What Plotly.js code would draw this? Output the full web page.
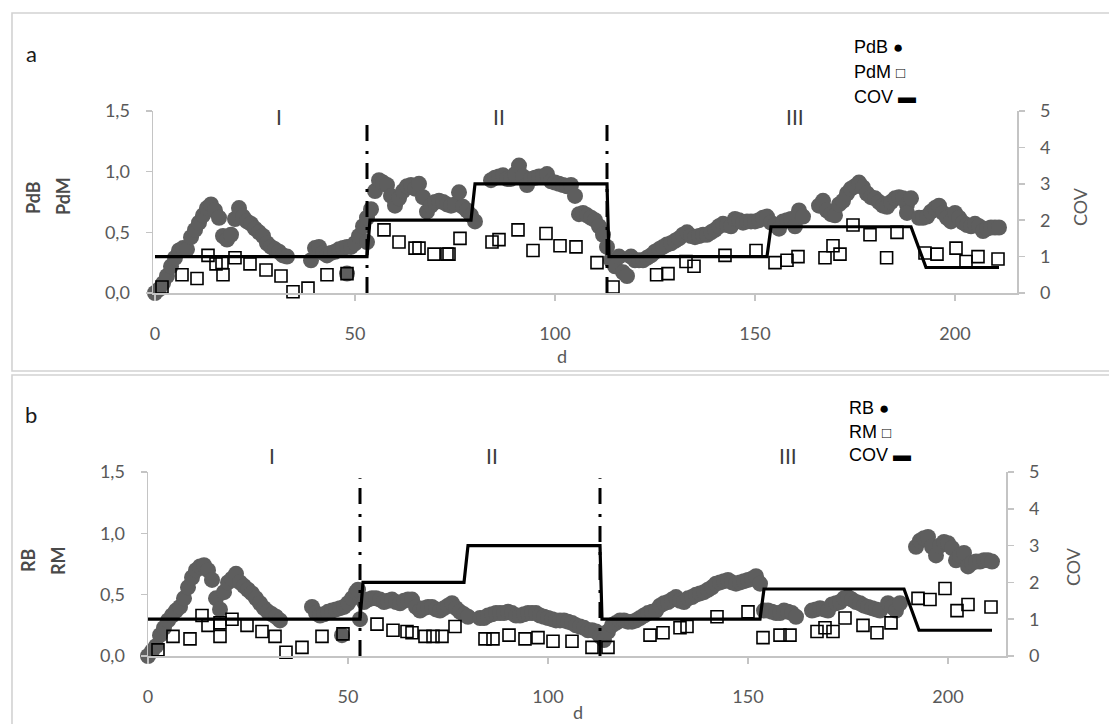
<!DOCTYPE html>
<html>
<head>
<meta charset="utf-8">
<script src="https://cdn.plot.ly/plotly-3.0.1.min.js"></script>
<style>
  html, body { margin: 0; padding: 0; background: #ffffff; }
  #chart { width: 1109px; height: 724px; }
</style>
</head>
<body>
<div id="chart"></div>
<script>
// ---------- data: [day, value] ----------
const pdbPoints = [
  [0,0.00],[1,0.03],[2,0.08],[3,0.14],[4,0.22],[5,0.29],[6,0.35],[7,0.37],[8,0.36],[9,0.46],
  [10,0.52],[11,0.58],[12,0.64],[13,0.70],[14,0.73],[15,0.68],[16,0.62],[17,0.47],[18,0.44],[19,0.48],
  [20,0.61],[21,0.70],[22,0.63],[23,0.59],[24,0.57],[25,0.53],[26,0.50],[27,0.47],[28,0.41],[29,0.38],
  [30,0.36],[31,0.34],[32,0.31],[33,0.30],
  [39,0.27],[40,0.37],[41,0.38],[42,0.33],[43,0.31],[44,0.33],[45,0.34],[46,0.36],[47,0.37],[48,0.38],
  [48,0.16],[49,0.38],[50,0.41],[51,0.47],[52,0.55],[53,0.42],[53,0.62],[54,0.69],[55,0.84],[56,0.93],
  [57,0.91],[58,0.89],[59,0.80],[60,0.72],[61,0.78],[62,0.84],[63,0.88],[64,0.89],[65,0.86],[66,0.90],
  [67,0.79],[68,0.67],[69,0.72],[70,0.75],[71,0.76],[72,0.75],[73,0.73],[74,0.72],[75,0.73],[76,0.83],
  [77,0.71],[78,0.68],[79,0.64],[80,0.59],
  [84,0.93],[85,0.95],[86,0.96],[87,0.97],[88,0.94],[89,0.94],[90,0.98],[91,1.05],[92,0.96],[93,0.89],
  [94,0.94],[95,0.95],[96,0.96],[97,0.96],[98,0.98],[99,0.92],[100,0.91],[101,0.90],[102,0.89],[103,0.88],
  [104,0.89],[105,0.80],[106,0.65],[107,0.66],[108,0.64],[109,0.62],[110,0.60],[111,0.55],[112,0.48],[113,0.38],
  [114,0.27],[115,0.22],[116,0.30],[117,0.17],[118,0.14],[119,0.30],[120,0.27],[121,0.27],[122,0.27],[123,0.29],
  [124,0.31],[125,0.34],[126,0.36],[127,0.38],[128,0.40],[129,0.41],[130,0.43],[131,0.45],[132,0.48],[133,0.50],
  [134,0.47],[135,0.46],[136,0.47],[137,0.48],[138,0.48],[139,0.50],[140,0.52],[141,0.55],[142,0.57],[143,0.56],
  [144,0.55],[145,0.61],[146,0.60],[147,0.58],[148,0.59],[149,0.59],[150,0.59],[151,0.60],[152,0.62],[153,0.63],
  [154,0.58],[155,0.56],[156,0.53],[157,0.59],[158,0.60],[159,0.61],[160,0.55],[161,0.68],[162,0.63],
  [166,0.72],[167,0.76],[168,0.68],[169,0.65],[170,0.64],[171,0.73],[172,0.76],[173,0.82],[174,0.86],[175,0.88],
  [176,0.91],[177,0.87],[178,0.82],[179,0.79],[180,0.78],[181,0.75],[182,0.72],[183,0.71],[184,0.75],[185,0.78],
  [186,0.79],[187,0.78],[188,0.73],[188,0.66],[189,0.78],
  [191,0.62],[192,0.62],[193,0.63],[194,0.67],[195,0.70],[196,0.72],[197,0.66],[198,0.62],[199,0.59],[200,0.66],
  [201,0.62],[202,0.58],[203,0.56],[204,0.55],[205,0.57],[206,0.55],[207,0.51],[208,0.53],[209,0.54],[210,0.54],
  [211,0.54]
];

const pdmPoints = [
  [1.75,0.05],[6.75,0.15],[10.5,0.12],[13.25,0.31],[15.25,0.24],[16.75,0.25],[17,0.15],[20,0.29],[23.75,0.24],
  [27.75,0.19],[31.5,0.14],[34.5,0.01],[38.25,0.04],[43,0.15],[48,0.16],
  [57.25,0.52],[61,0.42],[65,0.37],[66,0.37],[69.75,0.32],[73,0.32],[73.5,0.32],[76.25,0.45],
  [84.25,0.42],[86,0.44],[90.75,0.52],[94.5,0.35],[97.75,0.49],[101.25,0.39],[105.25,0.38],[110.5,0.25],
  [114.5,0.05],[125.4,0.15],[128.25,0.16],[132.75,0.26],[134.75,0.22],[142.5,0.31],[150.25,0.35],
  [155,0.25],[158,0.27],[160.75,0.30],[167.5,0.29],[169.5,0.39],[171.25,0.32],[174.5,0.56],[178.75,0.48],
  [182.9,0.29],[185.5,0.50],[192.5,0.33],[195.5,0.32],[200.25,0.37],[202.75,0.26],[205.75,0.30],[210.75,0.28]
];

const rbPoints = [
  [0,0.00],[1,0.04],[2,0.08],[3,0.17],[4,0.23],[5,0.29],[6,0.33],[7,0.37],[8,0.40],[9,0.47],
  [10,0.56],[11,0.64],[12,0.70],[13,0.73],[14,0.74],[15,0.70],[16,0.62],[17,0.47],[18,0.38],[19,0.52],
  [20,0.60],[21,0.63],[22,0.67],[23,0.60],[24,0.57],[25,0.54],[26,0.51],[27,0.47],[28,0.43],[29,0.39],
  [30,0.36],[31,0.34],[32,0.32],[33,0.29],
  [41,0.40],[42,0.35],[43,0.33],[44,0.34],[45,0.36],[46,0.37],[47,0.38],[48,0.39],[48.5,0.17],[49,0.40],
  [50,0.43],[51,0.47],[52,0.52],[52.5,0.54],[53,0.30],[54,0.44],[55,0.46],[56,0.47],[57,0.47],[58,0.46],
  [59,0.44],[60,0.45],[61,0.46],[62,0.44],[63,0.43],[64,0.45],[65,0.46],[66,0.46],[67,0.40],[68,0.37],
  [69,0.39],[70,0.40],[71,0.40],[72,0.38],[73,0.37],[74,0.39],[75,0.41],[76,0.43],[77,0.39],[78,0.36],
  [79,0.34],[80,0.32],
  [83,0.31],[84,0.31],[85,0.33],[86,0.34],[87,0.35],[88,0.35],[89,0.35],[90,0.36],[91,0.35],[92,0.33],
  [93,0.33],[94,0.34],[95,0.35],[96,0.35],[97,0.35],[98,0.33],[99,0.32],[100,0.31],[101,0.30],[102,0.29],
  [103,0.29],[104,0.29],[105,0.28],[106,0.27],[107,0.25],[108,0.24],[109,0.23],[110,0.21],[111,0.21],[112,0.20],
  [113,0.16],[114,0.13],[115,0.20],[116,0.25],[117,0.27],[118,0.29],[119,0.29],[120,0.28],[121,0.28],[122,0.29],
  [123,0.31],[124,0.33],[125,0.35],[126,0.36],[127,0.37],[128,0.41],[129,0.43],[130,0.44],[131,0.46],[132,0.48],
  [133,0.45],[134,0.44],[135,0.47],[136,0.48],[137,0.50],[138,0.51],[139,0.52],[140,0.54],[141,0.56],[142,0.59],
  [143,0.60],[144,0.61],[145,0.62],[146,0.60],[147,0.59],[148,0.60],[149,0.61],[150,0.62],[151,0.63],[152,0.65],
  [153,0.59],[154,0.37],[155,0.37],[156,0.36],[157,0.35],[158,0.35],[159,0.37],[160,0.36],[161,0.35],[162,0.32],
  [166,0.37],[167,0.38],[168,0.39],[169,0.38],[170,0.37],[171,0.42],[172,0.43],[173,0.44],[174,0.47],[175,0.48],
  [176,0.46],[177,0.44],[178,0.43],[179,0.41],[180,0.40],[181,0.39],[182,0.38],[183,0.37],[185,0.43],[186,0.40],
  [187,0.37],[188,0.43],
  [192,0.89],[193,0.94],[194,0.96],[195,0.97],[196,0.89],[197,0.82],[198,0.90],[199,0.93],[200,0.92],[201,0.88],
  [202,0.78],[203,0.82],[204,0.84],[205,0.73],[206,0.76],[207,0.77],[208,0.77],[209,0.78],[210,0.78],[211,0.77]
];

const rmPoints = [
  [2.5,0.05],[6.25,0.16],[10.5,0.14],[13.5,0.33],[15,0.25],[18,0.27],[18,0.16],[21,0.30],[24.75,0.25],
  [28.5,0.20],[31.75,0.16],[34.5,0.03],[38.5,0.07],[43.5,0.16],[48.75,0.18],
  [57.25,0.26],[61.25,0.21],[64.75,0.20],[66,0.19],[69.25,0.16],[71.25,0.16],[73.5,0.16],[76.75,0.24],
  [84.25,0.14],[86.25,0.14],[90.25,0.17],[94.25,0.14],[97.5,0.15],[101.25,0.12],[106,0.12],[111,0.07],
  [115,0.07],[125.5,0.17],[128.75,0.19],[133,0.23],[134.75,0.24],[142.25,0.32],[150,0.36],
  [153.75,0.15],[158,0.17],[160.5,0.17],[167.25,0.20],[169.25,0.23],[171.25,0.20],[174.25,0.31],[178.75,0.25],
  [182.25,0.19],[185.75,0.27],[192.5,0.47],[195.5,0.46],[199.25,0.55],[202.25,0.37],[205,0.42],[210.75,0.40]
];

// COV step profile (secondary axis)
const covDay = [0, 53, 53.75, 79, 80, 113, 113.5, 153, 154, 189, 192.75, 211];
const covVal = [1, 1, 2, 2, 3, 3, 1, 1, 1.82, 1.82, 0.7, 0.7];

// phase boundaries and phase labels
const phaseBounds = [53, 113];
const phaseTop = 1.45;
const phaseNames = ['I', 'II', 'III'];
const phaseLabelDay = [31, 86, 160];

// tick values
const dayTicks = [0, 50, 100, 150, 200];
const leftTicks = [0, 0.5, 1.0, 1.5];
const covTicks = [0, 1, 2, 3, 4, 5];

// ---------- drawing ----------
const W = 1109, H = 724;
const px = x => x / W;
const py = y => 1 - y / H;

const GRAY_DOT = '#5e5e5e';
const AXIS = '#c4c4c4';
const TXT = '#595959';
const FONT = 'Lato, "Open Sans", sans-serif';
const LEG_FONT = '"Liberation Sans", Arial, sans-serif';

function panelTraces(circles, squares, xa, ya, ya2) {
  const tr = [];
  tr.push({
    type: 'scatter', mode: 'markers', xaxis: xa, yaxis: ya, cliponaxis: false,
    x: circles.map(p => p[0]), y: circles.map(p => p[1]),
    marker: { symbol: 'circle', size: 16, color: GRAY_DOT, line: { width: 0 } },
    hoverinfo: 'skip', showlegend: false
  });
  tr.push({
    type: 'scatter', mode: 'markers', xaxis: xa, yaxis: ya, cliponaxis: false,
    x: squares.map(p => p[0]), y: squares.map(p => p[1]),
    marker: { symbol: 'square', size: 12, color: 'rgba(255,255,255,0)', line: { color: '#000000', width: 1.6 } },
    hoverinfo: 'skip', showlegend: false
  });
  phaseBounds.forEach(d => {
    tr.push({
      type: 'scatter', mode: 'lines', xaxis: xa, yaxis: ya, cliponaxis: false,
      x: [d, d], y: [0, phaseTop],
      line: { color: '#000000', width: 3, dash: '16px,9px,3px,10px' },
      hoverinfo: 'skip', showlegend: false
    });
  });
  tr.push({
    type: 'scatter', mode: 'lines', xaxis: xa, yaxis: ya2, cliponaxis: false,
    x: covDay, y: covVal,
    line: { color: '#000000', width: 3.2 },
    hoverinfo: 'skip', showlegend: false
  });
  return tr;
}

const data = [].concat(
  panelTraces(pdbPoints, pdmPoints, 'x', 'y', 'y2'),
  panelTraces(rbPoints, rmPoints, 'x2', 'y3', 'y4')
);

const tickFont = { family: FONT, size: 18, color: TXT };
const baseAxis = {
  showline: true, linecolor: AXIS, linewidth: 1.5,
  ticks: 'outside', ticklen: 6, tickcolor: AXIS, tickwidth: 1.5,
  tickfont: tickFont, showgrid: false, zeroline: false, fixedrange: true
};

function xAxis(domain, range, anchor) {
  return Object.assign({}, baseAxis, { domain, range, anchor, tickvals: dayTicks, ticklabelstandoff: 18 });
}
function yLeft(domain, anchor) {
  return Object.assign({}, baseAxis, { domain, range: [0, 1.5], anchor, tickvals: leftTicks, tickformat: '.1f', ticklabelstandoff: 12 });
}
function yRight(overlay, anchor) {
  return Object.assign({}, baseAxis, { overlaying: overlay, side: 'right', anchor, range: [0, 5], tickvals: covTicks, ticklabelstandoff: 12 });
}

const ann = [];
function label(text, x, y, opts) {
  ann.push(Object.assign({
    xref: 'paper', yref: 'paper', x: px(x), y: py(y), text: text, showarrow: false,
    xanchor: 'center', yanchor: 'middle',
    font: { family: FONT, size: 18, color: TXT }
  }, opts || {}));
}

// panel letters
label('a', 31, 53, { font: { family: FONT, size: 22, color: '#1a1a1a' } });
label('b', 31, 414, { font: { family: FONT, size: 22, color: '#1a1a1a' } });

// phase labels (data x, paper y)
function phaseLabels(xref, y) {
  phaseNames.forEach((n, i) => {
    ann.push({
      xref: xref, yref: 'paper', x: phaseLabelDay[i], y: py(y), text: n, showarrow: false,
      xanchor: 'center', yanchor: 'middle',
      font: { family: FONT, size: 21, color: '#3a3a3a' }
    });
  });
}
phaseLabels('x', 116);
phaseLabels('x2', 455);

// legends
const legFont = { family: LEG_FONT, size: 18, color: '#000000' };
function legend(lines, x, ys) {
  lines.forEach((t, i) => label(t, x, ys[i], { xanchor: 'left', font: legFont }));
}
legend([
  'PdB <span style="font-size:17px">●</span>',
  'PdM <span style="font-size:15px">□</span>',
  'COV ▬'
], 852, [47, 72, 97]);
legend([
  'RB <span style="font-size:17px">●</span>',
  'RM <span style="font-size:15px">□</span>',
  'COV ▬'
], 847, [408, 432, 455]);

// axis titles
const boldTitle = { family: FONT, size: 18, color: '#4a4a4a', weight: 'bold' };
label('<b>PdB</b>', 33, 198, { textangle: -90, font: boldTitle });
label('<b>PdM</b>', 63, 196, { textangle: -90, font: boldTitle });
label('COV', 1080, 207, { textangle: -90 });
label('d', 562, 356);
label('<b>RB</b>', 28, 560, { textangle: -90, font: boldTitle });
label('<b>RM</b>', 58, 561, { textangle: -90, font: boldTitle });
label('COV', 1073, 567, { textangle: -90 });
label('d', 578, 712);

const frame = { color: '#d2d2d2', width: 1.6 };
const layout = {
  width: W, height: H,
  margin: { l: 0, r: 0, t: 0, b: 0 },
  paper_bgcolor: '#ffffff', plot_bgcolor: 'rgba(0,0,0,0)',
  separators: ', ',
  showlegend: false,
  xaxis: xAxis([px(153), px(1017)], [-0.5, 215.5], 'y'),
  yaxis: yLeft([py(293), py(111)], 'x'),
  yaxis2: yRight('y', 'x'),
  xaxis2: xAxis([px(148), px(1006)], [0, 214.5], 'y3'),
  yaxis3: yLeft([py(656), py(472)], 'x2'),
  yaxis4: yRight('y3', 'x2'),
  annotations: ann,
  shapes: [
    { type: 'rect', xref: 'paper', yref: 'paper', x0: px(12), x1: px(1130), y0: py(371), y1: py(13), line: frame, layer: 'below' },
    { type: 'rect', xref: 'paper', yref: 'paper', x0: px(12), x1: px(1130), y0: py(745), y1: py(375), line: frame, layer: 'below' }
  ]
};

Plotly.newPlot('chart', data, layout, { displayModeBar: false, staticPlot: true });
</script>
</body>
</html>
